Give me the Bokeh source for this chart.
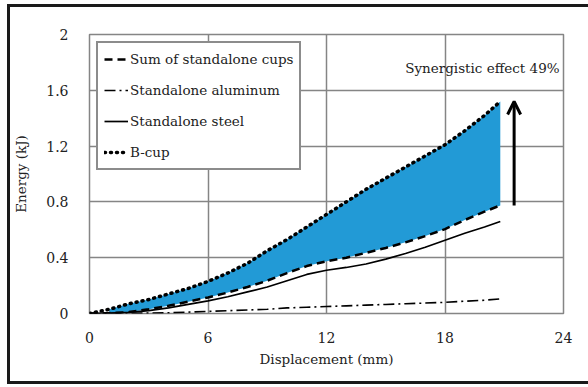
import numpy as np
from bokeh.plotting import figure
from bokeh.models import (ColumnDataSource, Legend, LegendItem, FixedTicker, Label,
                          Arrow, OpenHead, Range1d)
from bokeh.embed import file_html
from bokeh.resources import INLINE

# Absorbed energy versus crush displacement
displacement = [0, 1, 2, 3, 4, 5, 6, 7, 8, 9, 10, 11, 12, 13, 14, 15, 16, 17, 18, 19, 20, 20.8]
b_cup = [0.0, 0.03, 0.07, 0.10, 0.14, 0.18, 0.23, 0.29, 0.36, 0.45, 0.53, 0.62, 0.71,
         0.80, 0.89, 0.97, 1.05, 1.13, 1.21, 1.31, 1.42, 1.52]
sum_cups = [0.0, 0.003, 0.01, 0.03, 0.055, 0.085, 0.115, 0.15, 0.19, 0.235, 0.29, 0.34,
            0.375, 0.40, 0.435, 0.47, 0.51, 0.555, 0.605, 0.67, 0.73, 0.775]
steel = [0.0, 0.002, 0.008, 0.02, 0.04, 0.065, 0.09, 0.12, 0.155, 0.19, 0.235, 0.28,
         0.31, 0.33, 0.355, 0.39, 0.43, 0.475, 0.525, 0.575, 0.62, 0.66]
aluminum = [0.0, 0.0, 0.001, 0.003, 0.005, 0.01, 0.015, 0.02, 0.025, 0.03, 0.04, 0.045,
            0.05, 0.055, 0.06, 0.065, 0.07, 0.075, 0.08, 0.088, 0.095, 0.105]

series_names = ["Sum of standalone cups", "Standalone aluminum", "Standalone steel", "B-cup"]
x_ticks = [0, 6, 12, 18, 24]
y_ticks = [0, 0.4, 0.8, 1.2, 1.6, 2]
y_tick_labels = ["0", "0.4", "0.8", "1.2", "1.6", "2"]
x_label = "Displacement (mm)"
y_label = "Energy (kJ)"

SERIF = "DejaVu Serif"
TEXT = "#222222"
GRID = "#858585"
FRAME = "3px solid #1a1a1a"

src = ColumnDataSource(dict(x=displacement, b=b_cup, s=sum_cups, st=steel, al=aluminum))
gain = ColumnDataSource(dict(x=displacement[1:], b=b_cup[1:], s=sum_cups[1:]))

# Canvas sits inside a framed box (left, top and bottom rules)
p = figure(width=578, height=374, output_backend="svg", toolbar_location=None,
           x_range=Range1d(0, 24), y_range=Range1d(0, 2),
           min_border_left=78, min_border_right=28, min_border_top=27, min_border_bottom=74)
p.styles = {"box-sizing": "content-box",
            "border-left": FRAME, "border-top": FRAME, "border-bottom": FRAME,
            "margin-left": "7px", "margin-top": "4px"}
p.background_fill_color = "white"
p.border_fill_color = "white"
p.outline_line_color = GRID
p.outline_line_width = 1.5

# Synergy band between the summed cups and the B-cup
p.varea(x="x", y1="s", y2="b", source=gain, fill_color="#229ad6")

r_sum = p.line("x", "s", source=src, line_color="black", line_width=2.5, line_dash="8 5")
r_al = p.line("x", "al", source=src, line_color="black", line_width=1.6, line_dash="11 4 2 4")
r_st = p.line("x", "st", source=src, line_color="black", line_width=1.7)
r_b = p.line("x", "b", source=src, line_color="black", line_width=3.5, line_dash="1 5",
             line_cap="round")

for ax in (p.xaxis, p.yaxis):
    ax.major_tick_line_color = None
    ax.minor_tick_line_color = None
    ax.axis_line_color = None
    ax.major_label_text_font = SERIF
    ax.major_label_text_font_size = "14px"
    ax.major_label_text_color = TEXT
    ax.axis_label_text_font = SERIF
    ax.axis_label_text_font_size = "13.5px"
    ax.axis_label_text_font_style = "normal"
    ax.axis_label_text_color = TEXT

p.xaxis.ticker = FixedTicker(ticks=x_ticks)
p.yaxis.ticker = FixedTicker(ticks=y_ticks)
p.yaxis.major_label_overrides = {t: lab for t, lab in zip(y_ticks, y_tick_labels)}
p.xaxis.axis_label = x_label
p.yaxis.axis_label = y_label
p.xaxis.major_label_standoff = 12
p.yaxis.major_label_standoff = 15
p.xaxis.axis_label_standoff = 5
p.yaxis.axis_label_standoff = 14

p.xgrid.ticker = FixedTicker(ticks=x_ticks)
p.ygrid.ticker = FixedTicker(ticks=y_ticks)
for g in (p.xgrid, p.ygrid):
    g.grid_line_color = GRID
    g.grid_line_width = 1.5

legend = Legend(items=[LegendItem(label=series_names[0], renderers=[r_sum]),
                       LegendItem(label=series_names[1], renderers=[r_al]),
                       LegendItem(label=series_names[2], renderers=[r_st]),
                       LegendItem(label=series_names[3], renderers=[r_b])],
                location="top_left")
legend.label_text_font = SERIF
legend.label_text_font_size = "13.5px"
legend.label_text_color = TEXT
legend.border_line_color = "#1a1a1a"
legend.border_line_width = 2
legend.background_fill_color = "white"
legend.background_fill_alpha = 1
legend.glyph_width = 24
legend.glyph_height = 20
legend.label_height = 20
legend.label_standoff = 2
legend.spacing = 11
legend.padding = 6
legend.margin = 7
p.add_layout(legend)

# Synergistic gain of the B-cup over the summed standalone cups at the final displacement
synergy = round(100 * (b_cup[-1] - sum_cups[-1]) / b_cup[-1])
p.add_layout(Arrow(end=OpenHead(size=13, line_width=3, line_color="black"),
                   x_start=21.5, y_start=sum_cups[-1], x_end=21.5, y_end=b_cup[-1],
                   line_width=3, line_color="black"))
p.add_layout(Label(x=23.8, y=1.76, text=f"Synergistic effect {synergy}%",
                   text_font=SERIF, text_font_size="13.5px", text_color=TEXT,
                   text_align="right", text_baseline="middle"))

open("out.html", "w").write(file_html(p, INLINE))
